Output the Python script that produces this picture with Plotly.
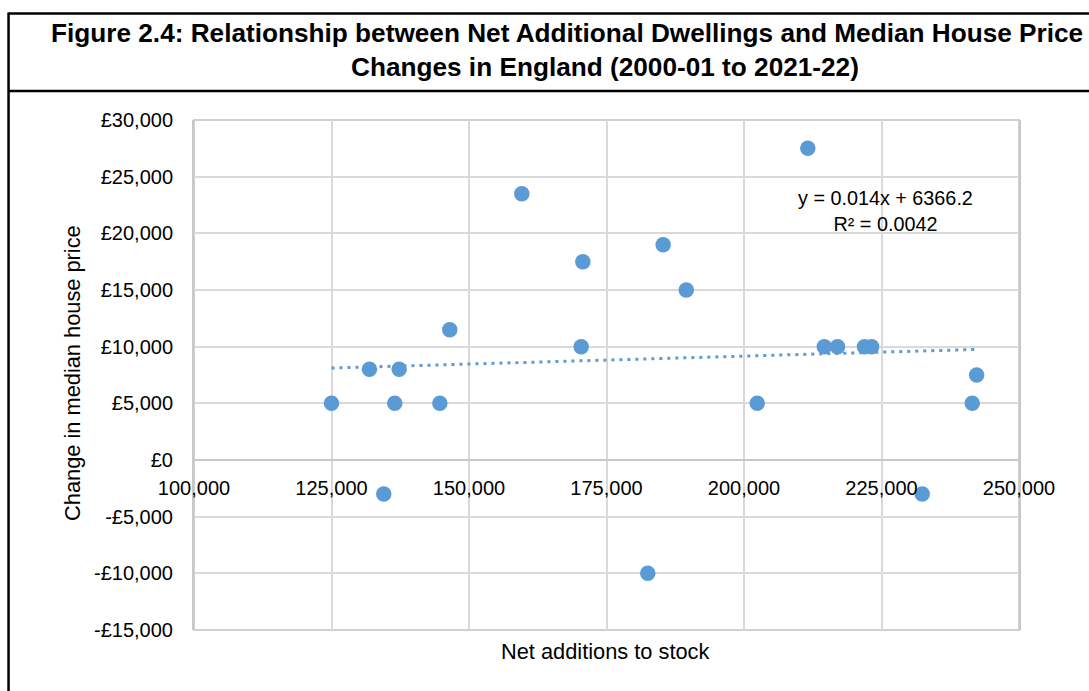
import plotly.graph_objects as go

# ---- data ----
net_additions = [125000, 131900, 136500, 137300, 144700, 146500, 134500, 159600,
                 170700, 170400, 182500, 185300, 189500, 202400, 211600, 214600,
                 217000, 221900, 223200, 232400, 241500, 242300]
price_change = [5000, 8000, 5000, 8000, 5000, 11500, -3000, 23500,
                17500, 10000, -10000, 19000, 15000, 5000, 27500, 10000,
                10000, 10000, 10000, -3000, 5000, 7500]

trend_slope = 0.014
trend_intercept = 6366.2
trend_label = "y = 0.014x + 6366.2<br>R² = 0.0042"

x_ticks = [100000, 125000, 150000, 175000, 200000, 225000, 250000]
x_tick_labels = ["100,000", "125,000", "150,000", "175,000", "200,000", "225,000", "250,000"]
y_ticks = [30000, 25000, 20000, 15000, 10000, 5000, 0, -5000, -10000, -15000]
y_tick_labels = ["£30,000", "£25,000", "£20,000", "£15,000", "£10,000", "£5,000",
                 "£0", "-£5,000", "-£10,000", "-£15,000"]

title_line1 = "Figure 2.4: Relationship between Net Additional Dwellings and Median House Price"
title_line2 = "Changes in England (2000-01 to 2021-22)"
x_title = "Net additions to stock"
y_title = "Change in median house price"

x_range = [100000, 250000]
y_range = [-15000, 30000]

BLUE = "#5B9BD5"
GRID = "#D9D9D9"
FONT = "Liberation Sans, Arial, sans-serif"

trend_x = [min(net_additions), max(net_additions)]
trend_y = [trend_slope * v + trend_intercept for v in trend_x]

fig = go.Figure()
fig.add_trace(go.Scatter(
    x=trend_x, y=trend_y, mode="lines",
    line=dict(color=BLUE, width=3, dash="3px,5px"),
    hoverinfo="skip", showlegend=False,
))
fig.add_trace(go.Scatter(
    x=net_additions, y=price_change, mode="markers",
    marker=dict(color=BLUE, size=15.5, line=dict(width=0)),
    showlegend=False,
))

zero_pos = (0 - y_range[0]) / (y_range[1] - y_range[0])

fig.update_layout(
    width=1089, height=691,
    margin=dict(l=194, r=70, t=120, b=61, autoexpand=False),
    paper_bgcolor="white", plot_bgcolor="white",
    font=dict(family=FONT, size=20, color="#000000"),
    xaxis=dict(
        range=x_range, tickvals=x_ticks, ticktext=x_tick_labels,
        showgrid=True, gridcolor=GRID, gridwidth=2,
        zeroline=False, showline=True, linecolor="#C8C8C8", linewidth=2,
        anchor="free", position=zero_pos, ticks="", ticklabelstandoff=10,
        tickfont=dict(size=20, color="#000000"),
    ),
    yaxis=dict(
        range=y_range, tickvals=y_ticks, ticktext=y_tick_labels,
        showgrid=True, gridcolor=GRID, gridwidth=2,
        zeroline=False, showline=True, linecolor="#C8C8C8", linewidth=2,
        mirror=True, ticks="", ticklabelstandoff=15,
        tickfont=dict(size=20, color="#000000"),
    ),
)

# plot area border
fig.add_shape(type="rect", xref="paper", yref="paper", x0=0, x1=1, y0=0, y1=1,
              line=dict(color="#D0D0D0", width=2), layer="below")

# frame lines around the figure (paper coordinates)
frame = dict(color="black", width=2.5)
fig.add_shape(type="line", xref="paper", yref="paper", x0=-0.2248, x1=1.09, y0=1.2088, y1=1.2088, line=frame)
fig.add_shape(type="line", xref="paper", yref="paper", x0=-0.2248, x1=1.09, y0=1.0569, y1=1.0569, line=frame)
fig.add_shape(type="line", xref="paper", yref="paper", x0=-0.2248, x1=-0.2248, y0=1.2110, y1=-0.13, line=frame)

fig.add_annotation(text=f"<b>{title_line1}</b>", xref="paper", yref="paper",
                   x=0.4527, y=1.1706, showarrow=False, xanchor="center", yanchor="middle",
                   font=dict(size=26.2, family=FONT, color="black"))
fig.add_annotation(text=f"<b>{title_line2}</b>", xref="paper", yref="paper",
                   x=0.4976, y=1.1039, showarrow=False, xanchor="center", yanchor="middle",
                   font=dict(size=26.2, family=FONT, color="black"))

fig.add_annotation(text=x_title, xref="paper", yref="paper", x=0.498, y=-0.0412,
                   showarrow=False, xanchor="center", yanchor="middle",
                   font=dict(size=21.8, family=FONT, color="black"))
fig.add_annotation(text=y_title, xref="paper", yref="paper", x=-0.1467, y=0.504,
                   showarrow=False, xanchor="center", yanchor="middle", textangle=-90,
                   font=dict(size=21.8, family=FONT, color="black"))

fig.add_annotation(text=trend_label, xref="x", yref="y", x=225800, y=21950,
                   showarrow=False, xanchor="center", yanchor="middle", align="center",
                   font=dict(size=19.8, family=FONT, color="black"))

fig.write_html("out.html", config={"displayModeBar": False},
               post_script="document.body.style.margin='0';")
